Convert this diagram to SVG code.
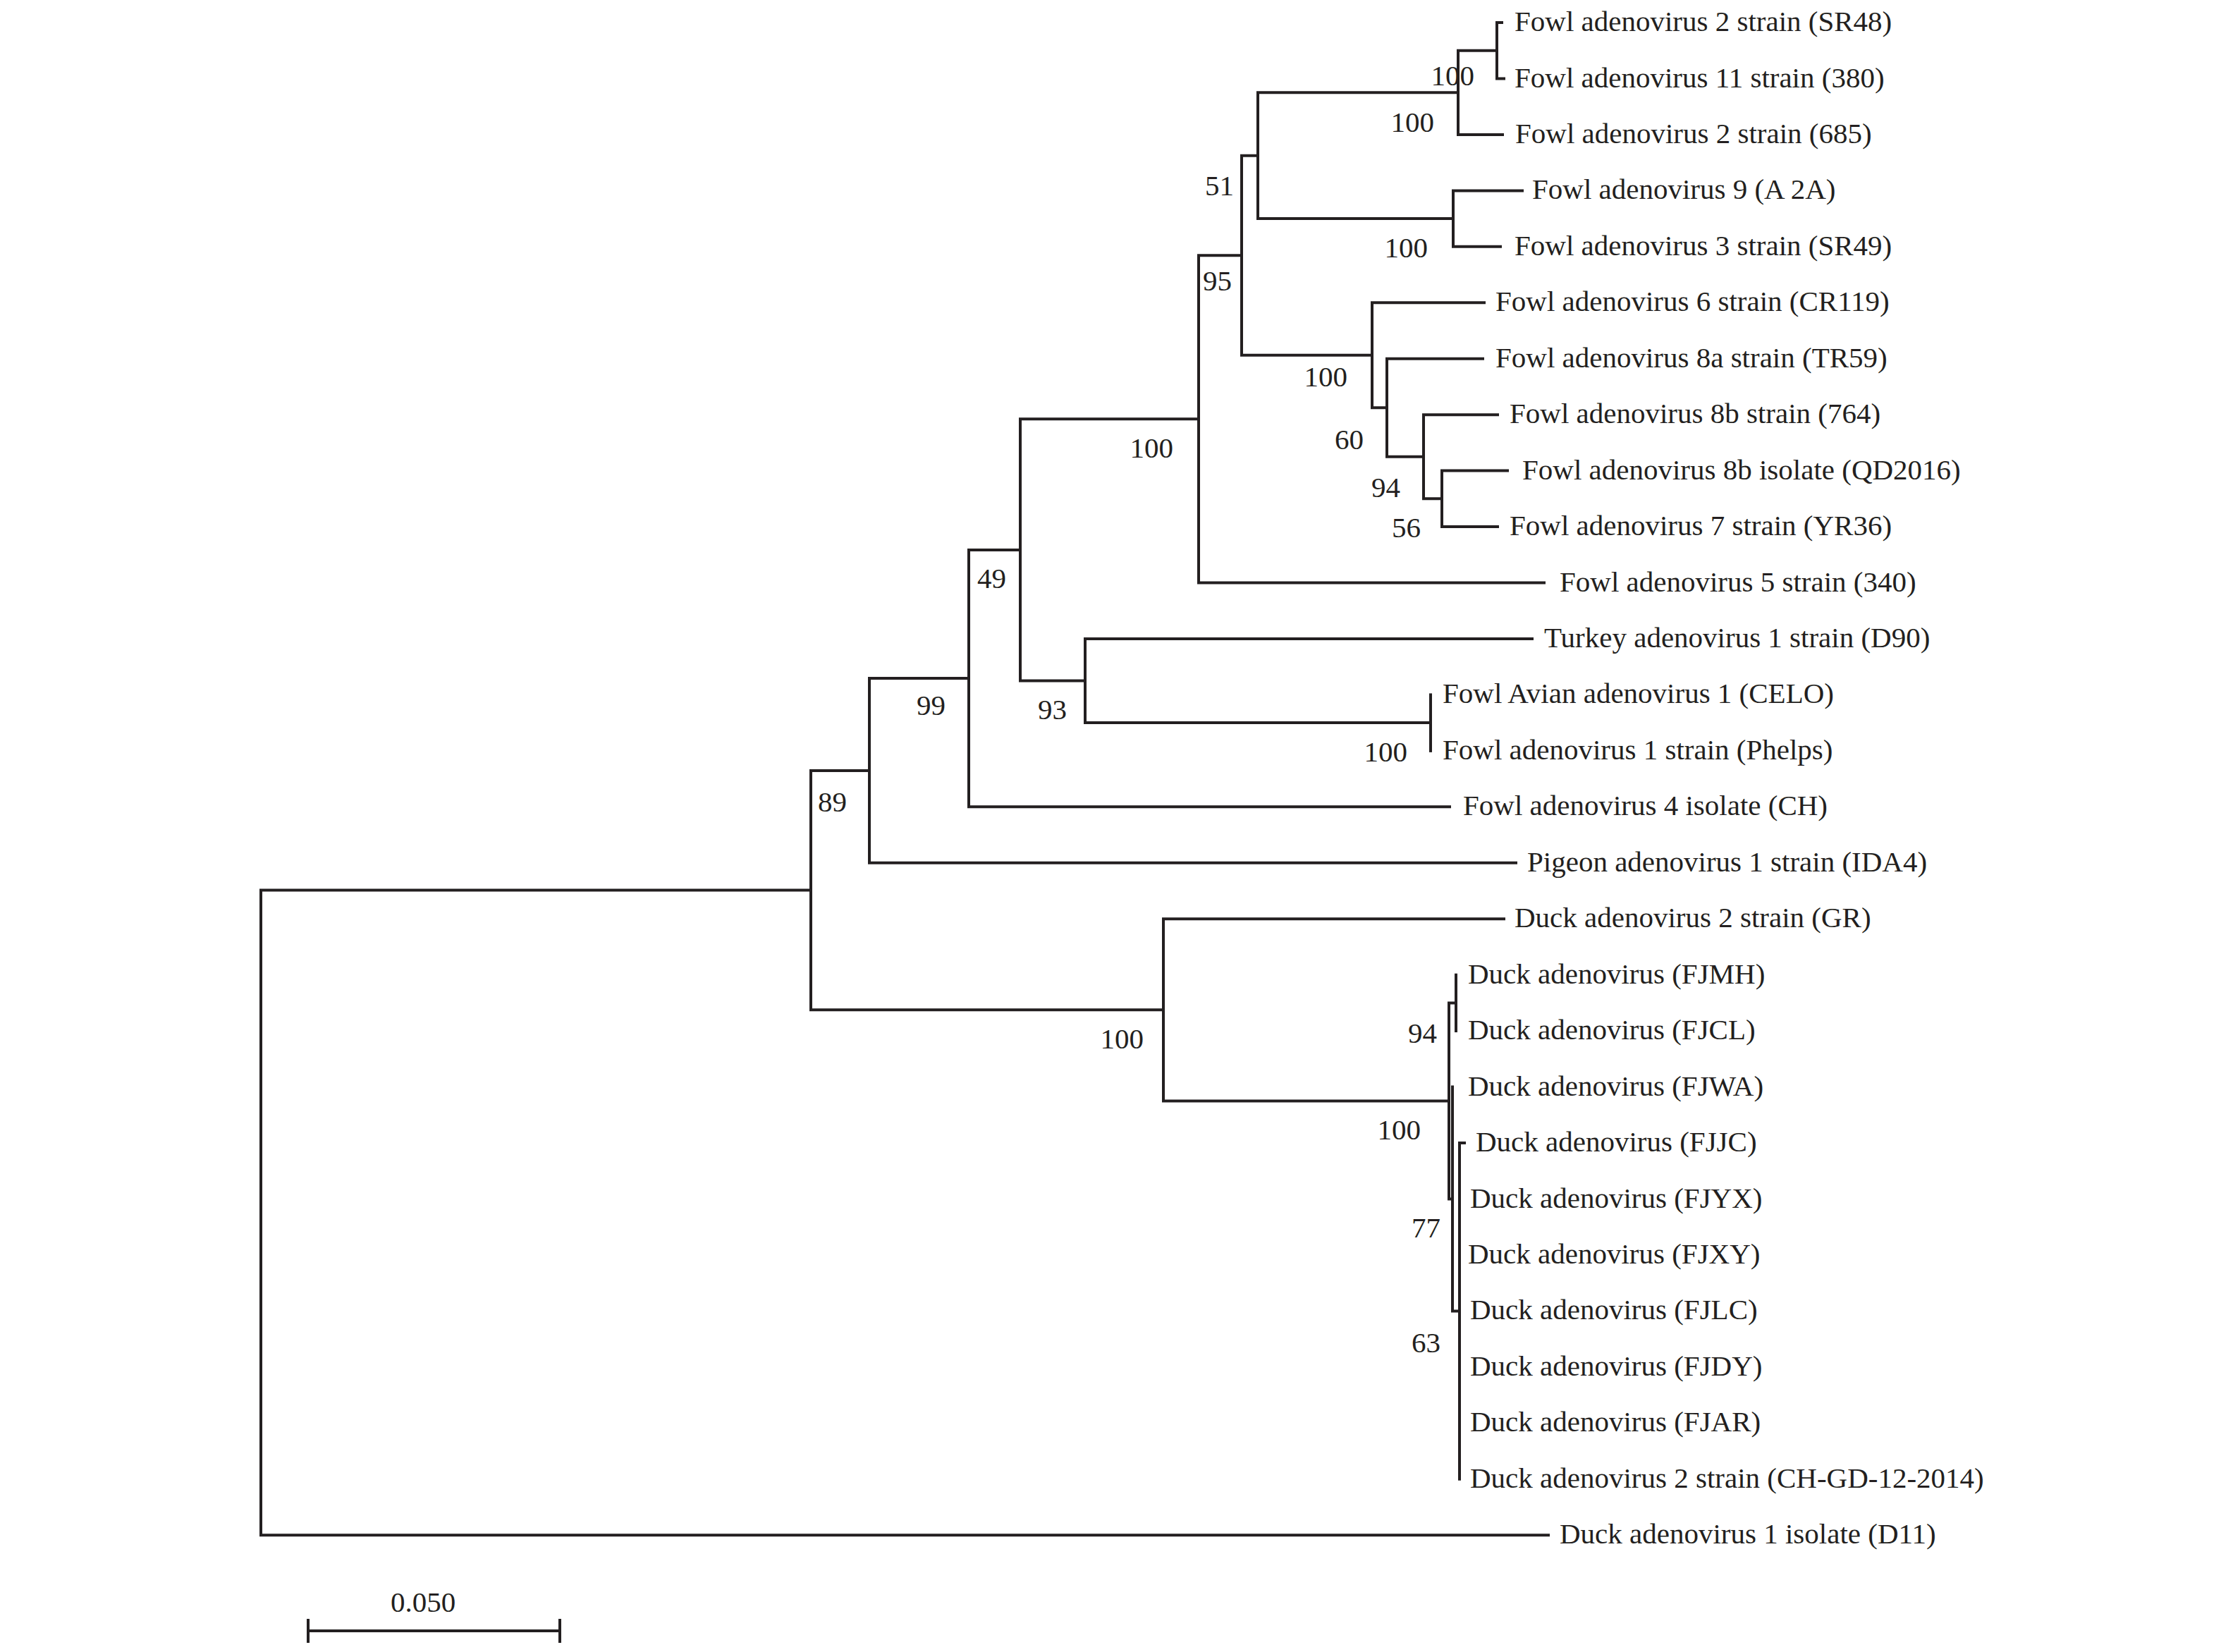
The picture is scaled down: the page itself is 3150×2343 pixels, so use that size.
<svg xmlns="http://www.w3.org/2000/svg" width="3150" height="2343" viewBox="0 0 3150 2343">
<style>
.t{font-family:"Liberation Serif","Times New Roman",serif;font-size:41px;fill:#231f20}
.b{font-family:"Liberation Serif","Times New Roman",serif;font-size:41px;fill:#231f20;text-anchor:end}
.c path{fill:none;stroke:#231f20;stroke-width:4;stroke-linecap:square;stroke-linejoin:miter}
</style>
<rect width="3150" height="2343" fill="#ffffff"/>
<g id="connectors" class="c">
<path d="M2130 32 H2123 V111.5 H2133"/>
<path d="M2123 71.7 H2068 V190.9 H2131"/>
<path d="M2159 270.4 H2061 V349.8 H2128"/>
<path d="M2068 131.3 H1784 V310.1 H2061"/>
<path d="M2138 667.6 H2045 V747.1 H2124"/>
<path d="M2124 588.2 H2019 V707.3 H2045"/>
<path d="M2103 508.7 H1967 V647.7 H2019"/>
<path d="M2105 429.3 H1946 V578.2 H1967"/>
<path d="M1784 220.7 H1761 V503.7 H1946"/>
<path d="M1761 362.2 H1700 V826.5 H2190"/>
<path d="M2029 985.4 V1064.9"/>
<path d="M2173 906 H1539 V1025.1 H2029"/>
<path d="M1700 594.3 H1447 V965.5 H1539"/>
<path d="M1447 779.9 H1374 V1144.3 H2056"/>
<path d="M1374 962.1 H1233 V1223.8 H2150"/>
<path d="M2065 1382.7 V1462.1"/>
<path d="M2077 1621 H2070 V2097.7"/>
<path d="M2060 1541.6 V1859.4 H2070"/>
<path d="M2065 1422.4 H2055 V1700.5 H2060"/>
<path d="M2133 1303.2 H1650 V1561.4 H2055"/>
<path d="M1233 1092.9 H1150 V1432.3 H1650"/>
<path d="M1150 1262.6 H370 V2177.2 H2196"/>
</g>
<g id="leaves" class="t">
<g id="leaf-SR48"><text x="2148" y="44">Fowl adenovirus 2 strain (SR48)</text></g>
<g id="leaf-380"><text x="2148" y="123.5">Fowl adenovirus 11 strain (380)</text></g>
<g id="leaf-685"><text x="2149" y="203">Fowl adenovirus 2 strain (685)</text></g>
<g id="leaf-A2A"><text x="2173" y="282.4">Fowl adenovirus 9 (A 2A)</text></g>
<g id="leaf-SR49"><text x="2148" y="361.8">Fowl adenovirus 3 strain (SR49)</text></g>
<g id="leaf-CR119"><text x="2121" y="441.3">Fowl adenovirus 6 strain (CR119)</text></g>
<g id="leaf-TR59"><text x="2121" y="520.7">Fowl adenovirus 8a strain (TR59)</text></g>
<g id="leaf-764"><text x="2141" y="600.2">Fowl adenovirus 8b strain (764)</text></g>
<g id="leaf-QD2016"><text x="2159" y="679.6">Fowl adenovirus 8b isolate (QD2016)</text></g>
<g id="leaf-YR36"><text x="2141" y="759.1">Fowl adenovirus 7 strain (YR36)</text></g>
<g id="leaf-340"><text x="2212" y="838.5">Fowl adenovirus 5 strain (340)</text></g>
<g id="leaf-D90"><text x="2190" y="918">Turkey adenovirus 1 strain (D90)</text></g>
<g id="leaf-CELO"><text x="2046" y="997.4">Fowl Avian adenovirus 1 (CELO)</text></g>
<g id="leaf-Phelps"><text x="2046" y="1076.9">Fowl adenovirus 1 strain (Phelps)</text></g>
<g id="leaf-CH"><text x="2075" y="1156.3">Fowl adenovirus 4 isolate (CH)</text></g>
<g id="leaf-IDA4"><text x="2166" y="1235.8">Pigeon adenovirus 1 strain (IDA4)</text></g>
<g id="leaf-GR"><text x="2148" y="1315.2">Duck adenovirus 2 strain (GR)</text></g>
<g id="leaf-FJMH"><text x="2082" y="1394.7">Duck adenovirus (FJMH)</text></g>
<g id="leaf-FJCL"><text x="2082" y="1474.1">Duck adenovirus (FJCL)</text></g>
<g id="leaf-FJWA"><text x="2082" y="1553.6">Duck adenovirus (FJWA)</text></g>
<g id="leaf-FJJC"><text x="2093" y="1633">Duck adenovirus (FJJC)</text></g>
<g id="leaf-FJYX"><text x="2085" y="1712.5">Duck adenovirus (FJYX)</text></g>
<g id="leaf-FJXY"><text x="2082" y="1791.9">Duck adenovirus (FJXY)</text></g>
<g id="leaf-FJLC"><text x="2085" y="1871.4">Duck adenovirus (FJLC)</text></g>
<g id="leaf-FJDY"><text x="2085" y="1950.8">Duck adenovirus (FJDY)</text></g>
<g id="leaf-FJAR"><text x="2085" y="2030.3">Duck adenovirus (FJAR)</text></g>
<g id="leaf-CHGD"><text x="2085" y="2109.7">Duck adenovirus 2 strain (CH-GD-12-2014)</text></g>
<g id="leaf-D11"><text x="2212" y="2189.2">Duck adenovirus 1 isolate (D11)</text></g>
</g>
<g id="internal-nodes" class="b">
<g id="node-1"><text x="2091" y="121">100</text></g>
<g id="node-2"><text x="2034" y="187">100</text></g>
<g id="node-3"><text x="2025" y="365">100</text></g>
<g id="node-4"><text x="1750" y="277">51</text></g>
<g id="node-5"><text x="2015" y="762">56</text></g>
<g id="node-6"><text x="1986" y="705">94</text></g>
<g id="node-7"><text x="1934" y="637">60</text></g>
<g id="node-8"><text x="1911" y="548">100</text></g>
<g id="node-9"><text x="1747" y="412">95</text></g>
<g id="node-10"><text x="1664" y="649">100</text></g>
<g id="node-11"><text x="1996" y="1080">100</text></g>
<g id="node-12"><text x="1513" y="1020">93</text></g>
<g id="node-13"><text x="1427" y="834">49</text></g>
<g id="node-14"><text x="1341" y="1014">99</text></g>
<g id="node-16"><text x="1201" y="1151">89</text></g>
<g id="node-G"><text x="1622" y="1487">100</text></g>
<g id="node-B"><text x="2038" y="1479">94</text></g>
<g id="node-A"><text x="2015" y="1616">100</text></g>
<g id="node-C"><text x="2043" y="1755">77</text></g>
<g id="node-D"><text x="2043" y="1918">63</text></g>
</g>
<g id="scale-bar">
<g class="c"><path d="M437 2313 H794"/><path d="M437 2298 V2328"/><path d="M794 2298 V2328"/></g>
<text class="t" x="554" y="2286">0.050</text>
</g>
</svg>
